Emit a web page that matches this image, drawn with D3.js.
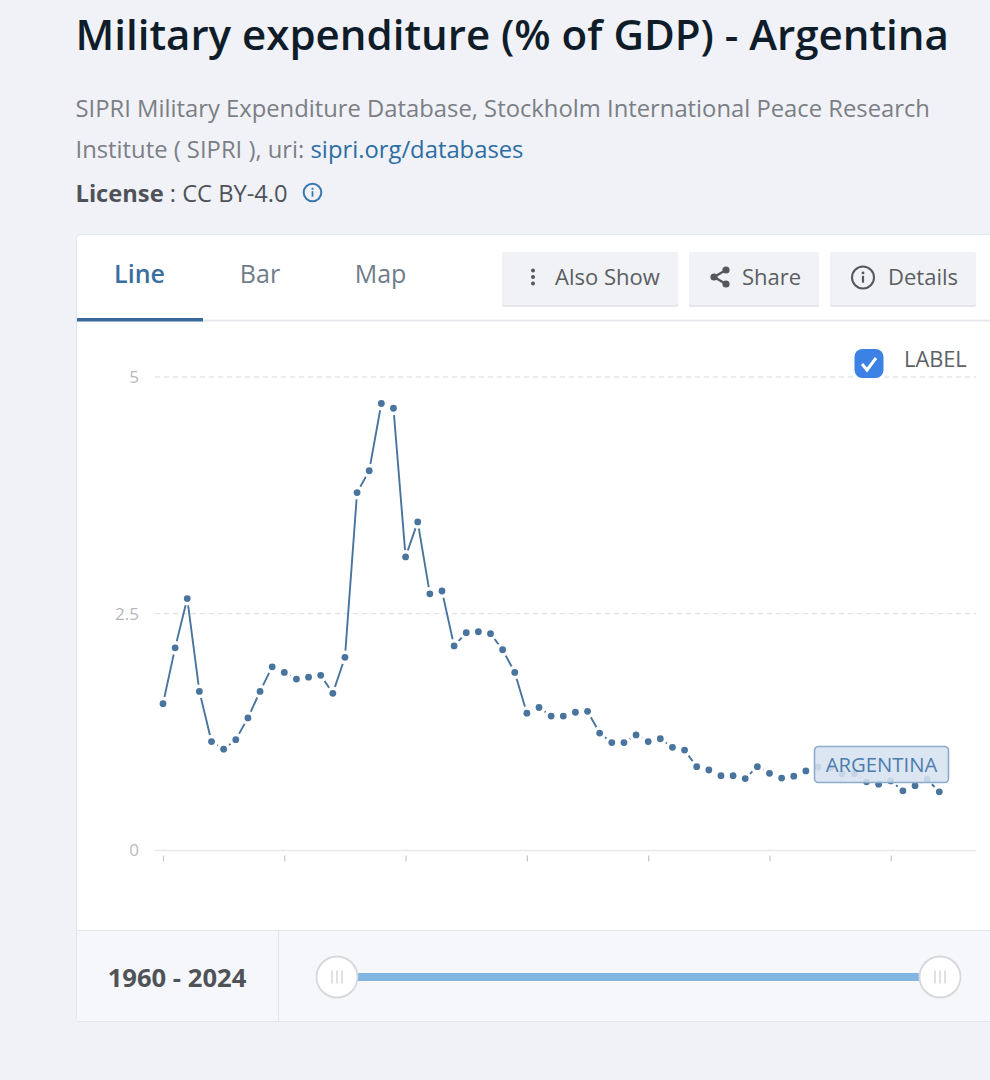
<!DOCTYPE html>
<html><head><meta charset="utf-8">
<script src="https://cdnjs.cloudflare.com/ajax/libs/d3/7.8.5/d3.min.js"></script>
<style>html,body{margin:0;padding:0;background:#f0f2f7;overflow:hidden}svg{display:block;font-family:"Open Sans",sans-serif}</style>
</head><body><svg id="c" width="990" height="1080"></svg>
<script>
const startYear = 1960, endYear = 2024;
const seriesName = "ARGENTINA";
const values = [1.55,2.14,2.66,1.68,1.15,1.07,1.17,1.40,1.68,1.94,
 1.88,1.81,1.83,1.85,1.66,2.04,3.78,4.01,4.72,4.67,
 3.10,3.47,2.71,2.74,2.16,2.30,2.31,2.29,2.12,1.88,
 1.45,1.51,1.42,1.42,1.46,1.47,1.24,1.14,1.14,1.22,
 1.15,1.18,1.09,1.06,0.885,0.85,0.79,0.79,0.76,0.885,
 0.815,0.765,0.785,0.84,0.88,0.87,0.81,0.81,0.725,0.70,
 0.735,0.63,0.685,0.75,0.62];
const years = d3.range(startYear, endYear + 1);
const yTicks = [0, 2.5, 5];
const xTicks = [1960,1970,1980,1990,2000,2010,2020];
const tabs = ["Line","Bar","Map"];

const svg = d3.select("#c");
const T = (x,y,s,size,fill,weight,anchor)=>svg.append("text").attr("x",x).attr("y",y).text(s)
  .attr("font-size",size).attr("fill",fill).attr("font-weight",weight||400).attr("text-anchor",anchor||"start");

// header
T(75.5,49.5,"Military expenditure (% of GDP) - Argentina",42.05,"#0f1c29",600);
T(75.5,117,"SIPRI Military Expenditure Database, Stockholm International Peace Research",23.8,"#7b7f85");
const l2 = T(75.5,158,"Institute ( SIPRI ), uri: ",23.8,"#7b7f85");
l2.append("tspan").attr("fill","#2e6da4").text("sipri.org/databases");
const l3 = T(75.5,201.5,"License",23.7,"#4f5359",700);
l3.append("tspan").attr("font-weight",400).text(" : CC BY-4.0");
const info=(cx,cy,r,col,sw)=>{
  svg.append("circle").attr("cx",cx).attr("cy",cy).attr("r",r).attr("fill","none").attr("stroke",col).attr("stroke-width",sw);
  svg.append("circle").attr("cx",cx).attr("cy",cy-r*0.42).attr("r",r*0.13).attr("fill",col);
  svg.append("rect").attr("x",cx-r*0.1).attr("y",cy-r*0.15).attr("width",r*0.2).attr("height",r*0.62).attr("fill",col);
};
info(312.5,192.5,8.8,"#3a78ae",2);

// card
svg.append("rect").attr("x",76.5).attr("y",234.5).attr("width",930).attr("height",787).attr("rx",4).attr("fill","#fff").attr("stroke","#e2e5ea");
svg.append("path").attr("d","M77 931H990V1021H77Z").attr("fill","#f6f7fa");
svg.append("path").attr("d","M77 930.5H990M77 1021.5H990M278.5 931V1021").attr("stroke","#e2e5ea").attr("fill","none");

// tabs
const tabX=[139.5,260,380.5];
svg.selectAll(".tab").data(tabs).join("text").attr("class","tab")
  .attr("x",(d,i)=>tabX[i]).attr("y",282.5).attr("text-anchor","middle").attr("font-size",25)
  .attr("font-weight",(d,i)=>i?400:600).attr("fill",(d,i)=>i?"#6f7d8a":"#3a6ea0").text(d=>d);
svg.append("path").attr("d","M77 320.5H990").attr("stroke","#e6e9ec").attr("stroke-width",2);
svg.append("rect").attr("x",77).attr("y",318).attr("width",126).attr("height",3.5).attr("fill","#386a9e");

// buttons
const btns=[[502,176,"Also Show",555],[689,130,"Share",742],[830,146,"Details",888]];
btns.forEach(b=>{
  svg.append("rect").attr("x",b[0]).attr("y",253).attr("width",b[1]).attr("height",54).attr("rx",2).attr("fill","#e4e6e9");
  svg.append("rect").attr("x",b[0]).attr("y",252).attr("width",b[1]).attr("height",53).attr("rx",2).attr("fill","#f0f2f5");
  T(b[3],285,b[2],22,"#5a5e63");
});
[-6.5,0,6.5].forEach(d=>svg.append("circle").attr("cx",533).attr("cy",277+d).attr("r",2).attr("fill","#54585d"));
svg.append("path").attr("d","M726 270L714 277L726 284").attr("fill","none").attr("stroke","#54585d").attr("stroke-width",2.4);
[[726,270],[714,277],[726,284]].forEach(p=>svg.append("circle").attr("cx",p[0]).attr("cy",p[1]).attr("r",3.6).attr("fill","#54585d"));
info(863,277.5,11,"#54585d",2);

// scales
const x=d3.scaleLinear().domain([startYear,endYear]).range([163,939.3]);
const y=d3.scaleLinear().domain([0,5]).range([850.5,377]);

// grid
svg.append("g").selectAll("line").data(yTicks.filter(d=>d>0)).join("line")
  .attr("x1",155).attr("x2",976).attr("y1",d=>y(d)).attr("y2",d=>y(d))
  .attr("stroke","#d9d9d9").attr("stroke-width",1.2).attr("stroke-dasharray","5 4");

// axes
const gy=svg.append("g").attr("transform","translate(139,0)")
  .call(d3.axisLeft(y).tickValues(yTicks).tickSize(0).tickPadding(0).tickFormat(d3.format("~g")));
gy.select(".domain").remove();
gy.selectAll("text").attr("font-size",17).attr("font-family","Open Sans").attr("fill","#b6b9bc");
const gx=svg.append("g").attr("transform","translate(0,850.5)")
  .call(d3.axisBottom(x).tickValues(xTicks).tickSize(0).tickFormat(""));
gx.select(".domain").remove();
svg.append("line").attr("x1",155).attr("x2",976).attr("y1",850.5).attr("y2",850.5).attr("stroke","#e5e8ed").attr("stroke-width",1.6);
gx.selectAll(".tick line").attr("y1",5).attr("y2",11).attr("stroke","#c4c7cb").attr("stroke-width",1.2);

// line and points
const color="#48749d";
svg.append("path").datum(values).attr("fill","none").attr("stroke",color).attr("stroke-width",1.9)
  .attr("d",d3.line().x((d,i)=>x(years[i])).y(d=>y(d)));
svg.append("g").selectAll("circle").data(values).join("circle")
  .attr("cx",(d,i)=>x(years[i])).attr("cy",d=>y(d)).attr("r",3.4).attr("fill",color)
  .attr("stroke","#fff").attr("stroke-width",7).attr("paint-order","stroke");

// label box
svg.append("rect").attr("x",814.5).attr("y",746.5).attr("width",134).attr("height",36).attr("rx",4)
  .attr("fill","#d6e2f0").attr("fill-opacity",0.88).attr("stroke","#8dabca").attr("stroke-width",1.6);
T(881.5,772,seriesName,20.3,"#4d7cad",400,"middle");

// checkbox
svg.append("rect").attr("x",854.5).attr("y",349).attr("width",29).attr("height",29).attr("rx",8).attr("fill","#3b82e4");
svg.append("path").attr("d","M862 364L867 370L876 358").attr("fill","none").attr("stroke","#fff").attr("stroke-width",3);
T(904,366.5,"LABEL",21.8,"#5c6166");

// range
T(177,986.5,startYear+" - "+endYear,25.6,"#4f5358",700,"middle");
svg.append("rect").attr("x",358).attr("y",973).attr("width",561).attr("height",8).attr("fill","#82b6e1");
[337,940].forEach(cx=>{
  svg.append("circle").attr("cx",cx).attr("cy",977).attr("r",20.5).attr("fill","#fff").attr("stroke","#d5d8dc").attr("stroke-width",1.8);
  [-5,0,5].forEach(d=>svg.append("line").attr("x1",cx+d).attr("x2",cx+d).attr("y1",970.5).attr("y2",983.5).attr("stroke","#d2d4d8").attr("stroke-width",1.4));
});
</script></body></html>
